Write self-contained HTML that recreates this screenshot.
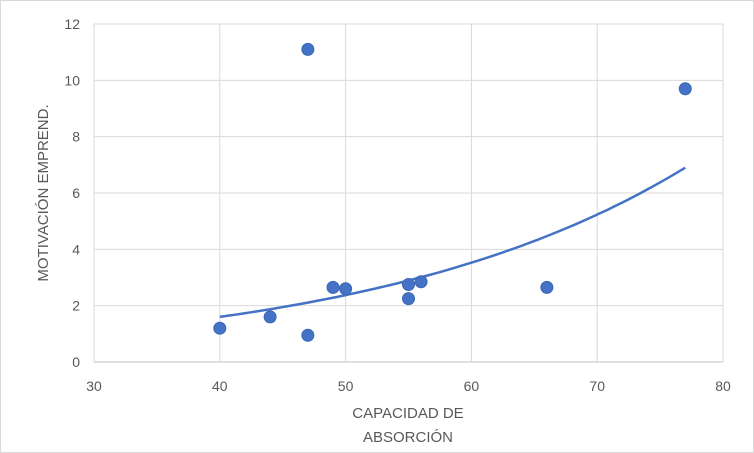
<!DOCTYPE html>
<html><head><meta charset="utf-8"><style>
html,body{margin:0;padding:0;background:#fff;}
svg{display:block;font-family:"Liberation Sans",sans-serif;}
</style></head><body>
<svg id="chart" width="754" height="453">
<rect x="0.5" y="0.5" width="753" height="452" fill="#fff" stroke="#d9d9d9"/>
<g id="grid"></g><g id="ticks"></g><g id="trend"></g><g id="points"></g>
<text x="408" y="418" font-size="15" fill="#595959" text-anchor="middle">CAPACIDAD DE</text>
<text x="408" y="442" font-size="15" fill="#595959" text-anchor="middle">ABSORCIÓN</text>
<text transform="translate(48,193) rotate(-90)" font-size="15" fill="#595959" text-anchor="middle">MOTIVACIÓN EMPREND.</text>
</svg>
<script>
const xs=[40,44,47,47,49,50,55,55,56,66,77];
const ys=[1.2,1.6,0.95,11.1,2.65,2.6,2.75,2.25,2.85,2.65,9.7];
const xTicks=[30,40,50,60,70,80];
const yTicks=[0,2,4,6,8,10,12];
const trendA=1.6, trendB=0.0395, trendX0=40, trendX1=77;
const X=v=>94+(v-30)*(723-94)/50;
const Y=v=>362-v*(362-24)/12;
const NS="http://www.w3.org/2000/svg";
function mk(t,a,p){const e=document.createElementNS(NS,t);for(const k in a)e.setAttribute(k,a[k]);document.getElementById(p).appendChild(e);return e;}
yTicks.forEach(v=>{
 const l=mk('line',{x1:X(30),x2:X(80),y1:Y(v),y2:Y(v),stroke:v===0?'#bfbfbf':'#d9d9d9','stroke-width':1},'grid');
 
 
 const t=mk('text',{x:X(30)-14,y:Y(v)+5,'font-size':14,fill:'#595959','text-anchor':'end'},'ticks');t.textContent=v;
 
 
});
xTicks.forEach(v=>{
 const l=mk('line',{x1:X(v),x2:X(v),y1:Y(0),y2:Y(12),stroke:'#d9d9d9','stroke-width':1},'grid');
 
 
 const t=mk('text',{x:X(v),y:Y(0)+29,'font-size':14,fill:'#595959','text-anchor':'middle'},'ticks');t.textContent=v;
 
 
});
let d='';for(let i=0;i<=60;i++){const x=trendX0+(trendX1-trendX0)*i/60;const y=trendA*Math.exp(trendB*(x-trendX0));d+=(i?'L':'M')+X(x).toFixed(1)+' '+Y(y).toFixed(1);}
const tl=mk('path',{d:d,fill:'none',stroke:'#4472c4','stroke-width':2.5},'trend');


xs.forEach((x,i)=>{
 const c=mk('circle',{cx:X(x),cy:Y(ys[i]),r:6,fill:'#4472c4',stroke:'#3a66b5','stroke-width':1},'points');
 
 
});
</script>
</body></html>
